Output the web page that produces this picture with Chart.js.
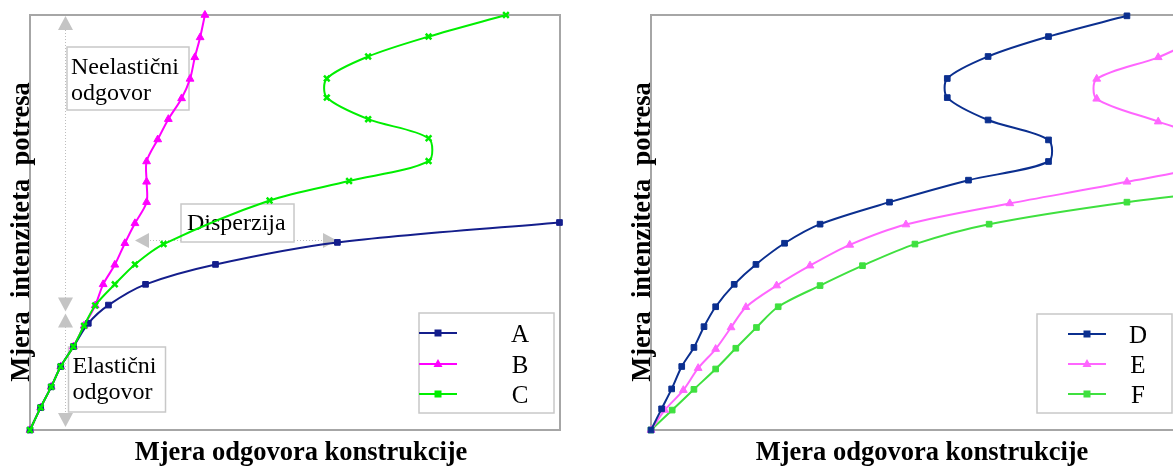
<!DOCTYPE html>
<html>
<head>
<meta charset="utf-8">
<script src="https://cdn.jsdelivr.net/npm/chart.js@4"></script>
<style>
  html, body { margin: 0; padding: 0; background: #fff; overflow: hidden; }
  body { width: 1173px; height: 466px; position: relative; }
  .panel { position: absolute; top: 0; width: 590px; height: 466px; }
  #leftPanel { left: 0; }
  #rightPanel { left: 620px; }
</style>
</head>
<body>
<div class="panel" id="leftPanel"><canvas id="leftChart"></canvas></div>
<div class="panel" id="rightPanel"><canvas id="rightChart"></canvas></div>
<script>
// Axis titles (same on both panels)
const xTitle = 'Mjera odgovora konstrukcije';
const yTitle = 'Mjera  intenziteta  potresa';

// Left panel: series A, B, C (values in % of axis range)
const leftLabels = ['A', 'B', 'C'];
const aX = [0, 2.0, 4.0, 5.8, 8.2, 11.0, 14.8, 21.8, 35.0, 58.0, 99.9];
const aY = [0, 5.4, 10.4, 15.3, 20.1, 25.7, 30.1, 35.1, 39.9, 45.2, 50.0];
const bX = [0, 2.0, 4.0, 5.8, 8.2, 10.2, 12.3, 13.8, 16.0, 17.9, 19.8, 22.0, 22.0, 22.0, 24.1, 26.1, 28.6, 30.2, 31.1, 32.1, 33.0];
const bY = [0, 5.4, 10.4, 15.3, 20.1, 25.1, 30.0, 35.1, 39.8, 45.0, 49.8, 54.9, 59.8, 64.7, 70.0, 74.9, 79.9, 84.6, 89.8, 94.6, 100];
const cX = [0, 2.0, 4.0, 5.8, 8.2, 10.2, 12.3, 16.0, 19.8, 25.2, 45.2, 60.2, 75.2, 75.2, 63.8, 56.0, 56.0, 63.8, 75.2, 89.8];
const cY = [0, 5.4, 10.4, 15.3, 20.1, 25.1, 30.0, 35.1, 39.9, 44.8, 55.3, 60.0, 64.8, 70.3, 74.9, 80.1, 84.7, 90.0, 94.8, 100];

// Right panel: series D, E, F
const rightLabels = ['D', 'E', 'F'];
const dX = [0, 2.0, 3.9, 5.8, 8.1, 10.0, 12.2, 15.7, 19.8, 25.2, 31.9, 45.0, 59.9, 75.0, 75.0, 63.6, 55.9, 55.9, 63.6, 75.0, 89.8];
const dY = [0, 5.1, 9.9, 15.3, 19.9, 24.9, 29.7, 35.1, 39.9, 45.0, 49.6, 54.9, 60.2, 64.7, 69.9, 74.7, 80.1, 84.7, 90.0, 94.8, 99.8];
const eX = [0, 2.6, 6.1, 8.9, 12.2, 15.1, 17.9, 23.7, 30.0, 37.5, 48.1, 67.7, 89.8, 104.5, 104.5, 95.7, 84.1, 84.1, 95.7, 104.5, 118];
const eY = [0, 4.8, 9.6, 14.9, 19.5, 24.7, 29.6, 34.8, 39.6, 44.6, 49.5, 54.6, 59.8, 64.3, 69.9, 74.3, 79.8, 84.6, 89.8, 94.8, 100];
const fX = [0, 4.0, 8.1, 12.2, 16.0, 19.9, 24.0, 31.9, 39.9, 49.8, 63.8, 89.8, 113];
const fY = [0, 4.8, 9.8, 14.7, 19.7, 24.7, 29.7, 34.8, 39.6, 44.8, 49.6, 54.9, 58.3];

const SERIF = '"Liberation Serif", "Times New Roman", serif';

// Build one line dataset
function series(label, xs, ys, color, style, order) {
    return {
        label: label,
        data: xs.map((x, i) => ({ x: x, y: ys[i] })),
        showLine: true,
        borderColor: color,
        backgroundColor: color,
        borderWidth: 2,
        pointStyle: style,
        pointRadius: style === 'triangle' ? 4.5 : 4,
        pointBorderWidth: style === 'crossRot' ? 2.5 : 1,
        tension: 0.3,
        clip: false,
        order: order,
    };
}

// Small filled arrow head, tip at (x, y)
function arrowHead(ctx, x, y, dir) {
    const l = 14, w = 7.5;
    ctx.beginPath();
    ctx.moveTo(x, y);
    if (dir === 'up') { ctx.lineTo(x - w, y + l); ctx.lineTo(x + w, y + l); }
    if (dir === 'down') { ctx.lineTo(x - w, y - l); ctx.lineTo(x + w, y - l); }
    if (dir === 'left') { ctx.lineTo(x + l, y - w); ctx.lineTo(x + l, y + w); }
    if (dir === 'right') { ctx.lineTo(x - l, y - w); ctx.lineTo(x - l, y + w); }
    ctx.closePath();
    ctx.fill();
}

function noteBox(ctx, x, y, w, h, lines, tx, baselines) {
    ctx.fillStyle = '#fff';
    ctx.fillRect(x, y, w, h);
    ctx.strokeStyle = '#c8c8c8';
    ctx.lineWidth = 1.5;
    ctx.setLineDash([]);
    ctx.strokeRect(x, y, w, h);
    ctx.fillStyle = '#000';
    ctx.font = '24px ' + SERIF;
    ctx.textAlign = 'left';
    ctx.textBaseline = 'alphabetic';
    lines.forEach((t, i) => ctx.fillText(t, tx, baselines[i]));
}

// Frame, axis titles and legend box
const framePlugin = {
    id: 'frame',
    beforeDatasetsDraw(chart) {
        const { ctx, chartArea: a } = chart;
        ctx.save();
        ctx.strokeStyle = '#a6a6a6';
        ctx.lineWidth = 2;
        ctx.strokeRect(a.left, a.top, a.right - a.left, a.bottom - a.top);
        ctx.restore();
    },
    afterDraw(chart, args, opts) {
        const { ctx, chartArea: a } = chart;
        ctx.save();
        ctx.fillStyle = '#000';
        ctx.textAlign = 'center';
        ctx.textBaseline = 'alphabetic';
        ctx.font = 'bold 26.5px ' + SERIF;
        ctx.fillText(xTitle, (a.left + a.right) / 2 + 6, 460);
        ctx.save();
        ctx.translate(a.left - 1, 232);
        ctx.rotate(-Math.PI / 2);
        ctx.font = 'bold 26.5px ' + SERIF;
        ctx.fillText(yTitle, 0, 0);
        ctx.restore();

        // legend
        const lg = opts.legend;
        ctx.fillStyle = '#fff';
        ctx.fillRect(lg.x, lg.y, lg.w, lg.h);
        ctx.strokeStyle = '#c8c8c8';
        ctx.lineWidth = 1.5;
        ctx.strokeRect(lg.x, lg.y, lg.w, lg.h);
        chart.data.datasets.forEach((ds, i) => {
            const y = lg.rows[i];
            ctx.strokeStyle = ds.borderColor;
            ctx.lineWidth = 2;
            ctx.beginPath();
            ctx.moveTo(lg.x1, y);
            ctx.lineTo(lg.x2, y);
            ctx.stroke();
            ctx.fillStyle = ds.borderColor;
            const m = (lg.x1 + lg.x2) / 2;
            if (ds.pointStyle === 'triangle') {
                ctx.beginPath();
                ctx.moveTo(m, y - 5);
                ctx.lineTo(m - 4.5, y + 3);
                ctx.lineTo(m + 4.5, y + 3);
                ctx.closePath();
                ctx.fill();
            } else {
                ctx.fillRect(m - 3.5, y - 3.5, 7, 7);
            }
            ctx.fillStyle = '#000';
            ctx.font = '25px ' + SERIF;
            ctx.textAlign = 'center';
            ctx.fillText(ds.label, lg.labelX, y + 8.5);
        });
        ctx.restore();
    },
};

// Annotations of the left panel (drawn below the lines)
const notesPlugin = {
    id: 'notes',
    beforeDatasetsDraw(chart) {
        const ctx = chart.ctx;
        ctx.save();
        ctx.strokeStyle = '#bdbdbd';
        ctx.fillStyle = '#c4c4c4';
        ctx.lineWidth = 1;
        ctx.setLineDash([1, 2]);
        ctx.beginPath();
        ctx.moveTo(65.5, 30); ctx.lineTo(65.5, 298);
        ctx.moveTo(65.5, 327); ctx.lineTo(65.5, 413);
        ctx.moveTo(150, 240.5); ctx.lineTo(323, 240.5);
        ctx.stroke();
        ctx.setLineDash([]);
        arrowHead(ctx, 65.5, 16, 'up');
        arrowHead(ctx, 65.5, 311.5, 'down');
        arrowHead(ctx, 65.5, 313.5, 'up');
        arrowHead(ctx, 65.5, 427, 'down');
        arrowHead(ctx, 135, 240.5, 'left');
        arrowHead(ctx, 337, 240.5, 'right');

        noteBox(ctx, 67, 47, 122, 63, ['Neelastični', 'odgovor'], 71, [73.5, 100]);
        noteBox(ctx, 68.5, 347, 97, 65, ['Elastični', 'odgovor'], 72.5, [372.5, 398.5]);
        noteBox(ctx, 181, 204, 113, 38, ['Disperzija'], 187, [230]);
        ctx.restore();
    },
};

function makeChart(id, datasets, padding, legend, extra) {
    return new Chart(document.getElementById(id), {
        type: 'scatter',
        data: { datasets: datasets },
        options: {
            responsive: true,
            maintainAspectRatio: false,
            animation: false,
            layout: { padding: padding },
            scales: {
                x: { type: 'linear', min: 0, max: 100, display: false },
                y: { type: 'linear', min: 0, max: 100, display: false },
            },
            plugins: {
                legend: { display: false },
                tooltip: { enabled: false },
                frame: { legend: legend },
            },
        },
        plugins: [framePlugin].concat(extra),
    });
}

// Left chart
makeChart('leftChart', [
    series(leftLabels[0], aX, aY, '#141e8c', 'rect', 1),
    series(leftLabels[1], bX, bY, '#ff00ff', 'triangle', 2),
    series(leftLabels[2], cX, cY, '#00ee00', 'crossRot', 0),
], { left: 30, right: 30, top: 15, bottom: 36 },
{ x: 419, y: 313, w: 135, h: 100, x1: 419, x2: 457, labelX: 520, rows: [333, 364, 394] },
[notesPlugin]);

// Right chart
makeChart('rightChart', [
    series(rightLabels[0], dX, dY, '#0b2f8f', 'rect', 0),
    series(rightLabels[1], eX, eY, '#ff66ff', 'triangle', 1),
    series(rightLabels[2], fX, fY, '#3fe03f', 'rect', 2),
], { left: 31, right: 29, top: 15, bottom: 36 },
{ x: 417, y: 314, w: 135, h: 99, x1: 448, x2: 486, labelX: 518, rows: [334, 364, 394] },
[]);
</script>
</body>
</html>
